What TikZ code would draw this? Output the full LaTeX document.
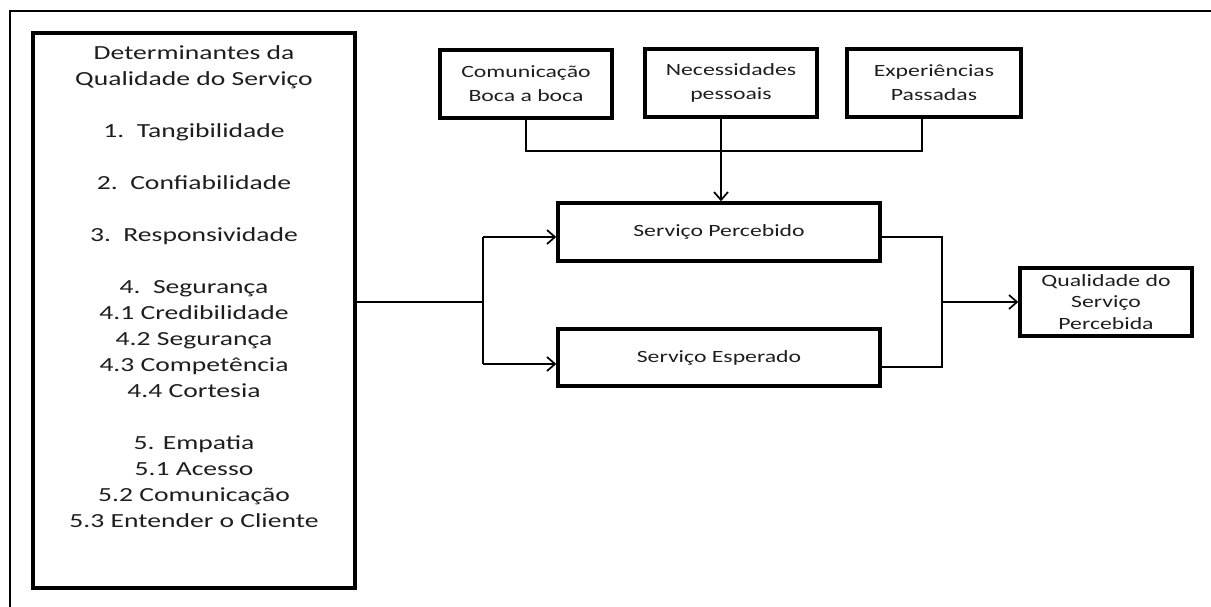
\documentclass[tikz,border=0pt]{standalone}
\usepackage{fontspec}
\setmainfont{Carlito}
\newfontfamily\calfont[FakeStretch=1.38]{Carlito}
\usetikzlibrary{arrows.meta,positioning}
\definecolor{txt}{RGB}{30,30,30}
\begin{document}
\begin{tikzpicture}[x=1pt,y=-1pt,
  bigbox/.style={draw=black,line width=3.4pt,minimum width=#1,inner sep=0pt},
  conn/.style={draw=black,line width=1.7pt},
  arr/.style={conn,-{Straight Barb[length=8pt,width=14pt,line width=1.7pt]}},
  bigtxt/.style={text=txt,font=\calfont\fontsize{20}{26}\selectfont,align=center,inner sep=0pt},
  smalltxt/.style={text=txt,font=\calfont\fontsize{17.2}{24}\selectfont,align=center,inner sep=0pt},
  qtxt/.style={text=txt,font=\calfont\fontsize{17.2}{21.5}\selectfont,align=center,inner sep=0pt}]
\useasboundingbox (0,0) rectangle (1211,607);
% outer frame (top and left edges visible)
\draw[line width=1.5pt] (10,607) -- (10,11) -- (1211,11);
% left box
\node[bigbox=322pt,minimum height=555pt] (det) at (194,310.5) {};
\node[bigtxt,anchor=north] (dettxt) at (194,45) {Determinantes da\\Qualidade do Serviço\\[26pt]
1.\ \ Tangibilidade\\[26pt]
2.\ \ Confiabilidade\\[26pt]
3.\ \ Responsividade\\[26pt]
4.\ \ Segurança\\4.1 Credibilidade\\4.2 Segurança\\4.3 Competência\\4.4 Cortesia\\[26pt]
5. Empatia\\5.1 Acesso\\5.2 Comunicação\\5.3 Entender o Cliente};
% top boxes
\node[bigbox=172pt,minimum height=68pt,smalltxt] (com) at (526,84) {Comunicação\\Boca a boca};
\node[bigbox=172pt,minimum height=68pt,smalltxt] (nec) at (731,83) {Necessidades\\pessoais};
\node[bigbox=174pt,minimum height=68pt,smalltxt] (exp) at (934,83) {Experiências\\Passadas};
% middle boxes
\node[bigbox=322pt,minimum height=58pt,smalltxt] (perc) at (719,232) {Serviço Percebido};
\node[bigbox=322pt,minimum height=57pt,smalltxt] (esp) at (719,357.5) {Serviço Esperado};
% result box
\node[bigbox=172pt,minimum height=68pt,qtxt] (qual) at (1106,302) {Qualidade do\\Serviço\\Percebida};
% coordinates
\coordinate (lj) at (483,302);
\coordinate (rj) at (942,302);
% top connectors
\draw[conn] (com.south) -- (526,151) -- (922,151) -- (exp.south -| 922,0);
\draw[arr] (nec.south -| 721,0) -- (perc.north -| 721,0);
% left fork
\draw[conn] (det.east |- lj) -- (lj);
\draw[conn] (483,237) -- (483,364);
\draw[arr] (483,237) -- (perc.west |- 0,237);
\draw[arr] (483,364) -- (esp.west |- 0,364);
% right join
\draw[conn] (perc.east |- 0,237) -- (942,237) -- (942,367) -- (esp.east |- 0,367);
\draw[arr] (rj) -- (qual.west);
\end{tikzpicture}
\end{document}
